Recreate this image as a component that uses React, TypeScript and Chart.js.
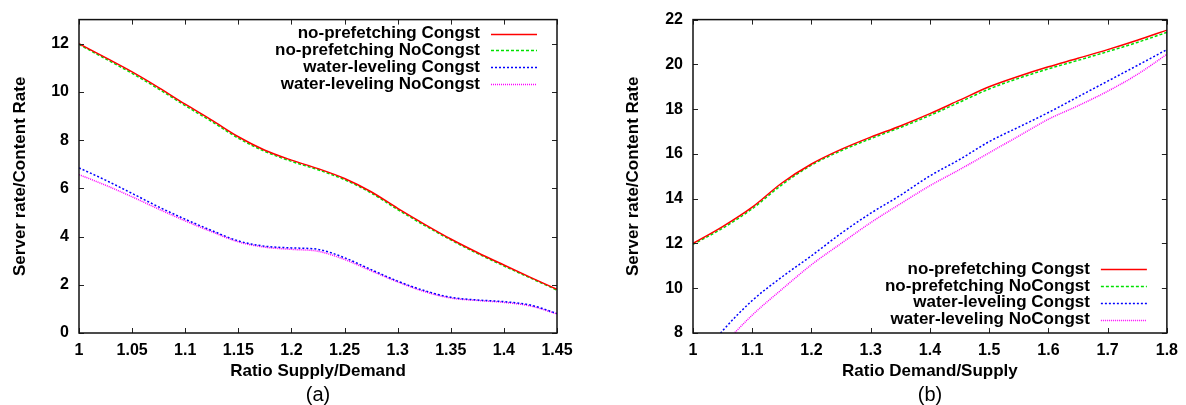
import React, { useEffect, useRef } from 'react';
import { Chart, registerables } from 'chart.js';

Chart.register(...registerables);

const FONT = '"Liberation Sans", Arial, Helvetica, sans-serif';

// ---- series meta ----
const seriesNames = [
  'no-prefetching Congst',
  'no-prefetching NoCongst',
  'water-leveling Congst',
  'water-leveling NoCongst',
];
const seriesColors = ['#ff0000', '#00e000', '#0000ff', '#ff00ff'];
const seriesDashes: number[][] = [[], [3, 2], [2, 2], [1, 1]];

// ---- chart (a): Ratio Supply/Demand ----
const xA = [1, 1.025, 1.05, 1.075, 1.1, 1.125, 1.15, 1.175, 1.2, 1.225, 1.25, 1.275, 1.3, 1.325, 1.35, 1.375, 1.4, 1.425, 1.45];
const noPrefCongstA = [12.0, 11.42, 10.83, 10.18, 9.49, 8.83, 8.14, 7.58, 7.17, 6.82, 6.41, 5.86, 5.17, 4.52, 3.9, 3.34, 2.82, 2.31, 1.81];
const noPrefNoCongstA = [11.97, 11.37, 10.77, 10.12, 9.43, 8.77, 8.08, 7.53, 7.12, 6.77, 6.36, 5.81, 5.12, 4.47, 3.86, 3.3, 2.78, 2.28, 1.78];
const waterCongstA = [6.85, 6.34, 5.79, 5.23, 4.72, 4.25, 3.82, 3.6, 3.53, 3.47, 3.12, 2.63, 2.15, 1.76, 1.48, 1.37, 1.3, 1.16, 0.81];
const waterNoCongstA = [6.57, 6.13, 5.65, 5.14, 4.65, 4.2, 3.78, 3.56, 3.47, 3.39, 3.05, 2.58, 2.12, 1.72, 1.45, 1.35, 1.27, 1.12, 0.79];
const xTicksA = [1, 1.05, 1.1, 1.15, 1.2, 1.25, 1.3, 1.35, 1.4, 1.45];
const xTickLabelsA = ['1', '1.05', '1.1', '1.15', '1.2', '1.25', '1.3', '1.35', '1.4', '1.45'];
const yTicksA = [0, 2, 4, 6, 8, 10, 12];
const yTickLabelsA = ['0', '2', '4', '6', '8', '10', '12'];

// ---- chart (b): Ratio Demand/Supply ----
const xB = [1, 1.05, 1.1, 1.15, 1.2, 1.25, 1.3, 1.35, 1.4, 1.45, 1.5, 1.55, 1.6, 1.65, 1.7, 1.75, 1.8];
const noPrefCongstB = [12.0, 12.75, 13.62, 14.7, 15.55, 16.2, 16.75, 17.25, 17.8, 18.4, 19.0, 19.47, 19.89, 20.27, 20.66, 21.08, 21.53];
const noPrefNoCongstB = [11.96, 12.68, 13.55, 14.62, 15.5, 16.14, 16.68, 17.18, 17.72, 18.31, 18.9, 19.38, 19.8, 20.18, 20.57, 20.98, 21.43];
const waterCongstB = [6.45, 8.1, 9.45, 10.5, 11.45, 12.45, 13.35, 14.15, 15.02, 15.75, 16.55, 17.2, 17.85, 18.55, 19.25, 19.95, 20.66];
const waterNoCongstB = [6.1, 7.45, 8.8, 9.95, 11.05, 12.0, 12.93, 13.77, 14.58, 15.3, 16.05, 16.8, 17.55, 18.15, 18.8, 19.55, 20.45];
const xTicksB = [1, 1.1, 1.2, 1.3, 1.4, 1.5, 1.6, 1.7, 1.8];
const xTickLabelsB = ['1', '1.1', '1.2', '1.3', '1.4', '1.5', '1.6', '1.7', '1.8'];
const yTicksB = [8, 10, 12, 14, 16, 18, 20, 22];
const yTickLabelsB = ['8', '10', '12', '14', '16', '18', '20', '22'];

const gnuFramePlugin = {
  id: 'gnuFrame',
  afterDatasetsDraw(chart: any, _args: any, opts: any) {
    const { ctx, chartArea: a, scales } = chart;
    ctx.save();
    // inward tick marks, mirrored on opposite sides
    ctx.strokeStyle = '#222';
    ctx.lineWidth = 1;
    const tl = 5;
    scales.x.ticks.forEach((t: any) => {
      const px = Math.round(scales.x.getPixelForValue(t.value)) + 0.5;
      ctx.beginPath();
      ctx.moveTo(px, a.bottom); ctx.lineTo(px, a.bottom - tl);
      ctx.moveTo(px, a.top); ctx.lineTo(px, a.top + tl);
      ctx.stroke();
    });
    scales.y.ticks.forEach((t: any) => {
      const py = Math.round(scales.y.getPixelForValue(t.value)) + 0.5;
      ctx.beginPath();
      ctx.moveTo(a.left, py); ctx.lineTo(a.left + tl, py);
      ctx.moveTo(a.right, py); ctx.lineTo(a.right - tl, py);
      ctx.stroke();
    });
    // frame
    ctx.strokeStyle = '#111';
    ctx.lineWidth = 1.5;
    ctx.strokeRect(a.left, a.top, a.right - a.left, a.bottom - a.top);

    // legend (gnuplot style: right-aligned text, sample at right)
    const n = chart.data.datasets.length;
    const rowH = 16.8;
    ctx.font = `bold 17px ${FONT}`;
    ctx.textAlign = 'right';
    ctx.textBaseline = 'middle';
    chart.data.datasets.forEach((ds: any, i: number) => {
      const y = opts.legendPos === 'bottom'
        ? a.bottom - 13.5 - (n - 1 - i) * rowH
        : a.top + 14 + i * rowH;
      ctx.fillStyle = '#000';
      ctx.fillText(ds.label, a.right - 77, y);
      const ly = Math.round(y) + 0.5;
      ctx.beginPath();
      ctx.strokeStyle = ds.borderColor;
      ctx.lineWidth = 1.5;
      ctx.setLineDash(ds.borderDash || []);
      ctx.moveTo(a.right - 66, ly);
      ctx.lineTo(a.right - 20, ly);
      ctx.stroke();
      ctx.setLineDash([]);
    });

    // caption
    ctx.font = `20px ${FONT}`;
    ctx.textAlign = 'center';
    ctx.textBaseline = 'middle';
    ctx.fillStyle = '#000';
    ctx.fillText(opts.caption, (a.left + a.right) / 2, chart.height - 10);
    ctx.restore();
  },
};

type Cfg = {
  xs: number[];
  series: number[][];
  xTicks: number[];
  xTickLabels: string[];
  yTicks: number[];
  yTickLabels: string[];
  xMin: number; xMax: number; yMin: number; yMax: number;
  xTitle: string;
  caption: string;
  legendPos: string;
  yAxisWidth: number;
  padRight: number;
  yTitlePad: number;
};

function GnuChart({ cfg, width }: { cfg: Cfg; width: number }) {
  const ref = useRef<HTMLCanvasElement>(null);
  useEffect(() => {
    if (!ref.current) return;
    const chart = new Chart(ref.current, {
      type: 'line',
      data: {
        datasets: cfg.series.map((vals, i) => ({
          label: seriesNames[i],
          data: cfg.xs.map((x, j) => ({ x, y: vals[j] })),
          borderColor: seriesColors[i],
          backgroundColor: seriesColors[i],
          borderDash: seriesDashes[i],
          borderWidth: 1.5,
          pointRadius: 0,
          cubicInterpolationMode: 'monotone' as const,
          fill: false,
        })),
      },
      options: {
        animation: false,
        responsive: true,
        maintainAspectRatio: false,
        layout: { padding: { left: 0, right: cfg.padRight, top: 19, bottom: 0 } },
        plugins: {
          legend: { display: false },
          tooltip: { enabled: false },
          gnuFrame: { caption: cfg.caption, legendPos: cfg.legendPos },
        } as any,
        scales: {
          x: {
            type: 'linear',
            min: cfg.xMin,
            max: cfg.xMax,
            grid: { display: false, drawTicks: false },
            border: { display: false },
            afterBuildTicks: (s: any) => { s.ticks = cfg.xTicks.map((v) => ({ value: v })); },
            afterFit: (s: any) => { s.height = 72; },
            ticks: {
              autoSkip: false,
              maxRotation: 0,
              padding: 8,
              color: '#000',
              font: { family: FONT, size: 16, weight: 'bold' },
              callback: (_v: any, i: number) => cfg.xTickLabels[i],
            },
            title: {
              display: true,
              text: cfg.xTitle,
              color: '#000',
              font: { family: FONT, size: 17, weight: 'bold' },
              padding: { top: 0, bottom: 23 },
            },
          },
          y: {
            type: 'linear',
            min: cfg.yMin,
            max: cfg.yMax,
            grid: { display: false, drawTicks: false },
            border: { display: false },
            afterBuildTicks: (s: any) => { s.ticks = cfg.yTicks.map((v) => ({ value: v })); },
            afterFit: (s: any) => { s.width = cfg.yAxisWidth; },
            ticks: {
              padding: 10,
              color: '#000',
              font: { family: FONT, size: 16, weight: 'bold' },
              callback: (_v: any, i: number) => cfg.yTickLabels[i],
            },
            title: {
              display: true,
              text: 'Server rate/Content Rate',
              color: '#000',
              font: { family: FONT, size: 17, weight: 'bold' },
              padding: { top: cfg.yTitlePad, bottom: 0 },
            },
          },
        },
      },
      plugins: [gnuFramePlugin],
    });
    return () => chart.destroy();
  }, [cfg]);
  return (
    <div style={{ position: 'relative', width, height: 405 }}>
      <canvas ref={ref} />
    </div>
  );
}

const cfgA: Cfg = {
  xs: xA,
  series: [noPrefCongstA, noPrefNoCongstA, waterCongstA, waterNoCongstA],
  xTicks: xTicksA, xTickLabels: xTickLabelsA,
  yTicks: yTicksA, yTickLabels: yTickLabelsA,
  xMin: 1, xMax: 1.45, yMin: 0, yMax: 13,
  xTitle: 'Ratio Supply/Demand',
  caption: '(a)',
  legendPos: 'top',
  yAxisWidth: 79,
  padRight: 43,
  yTitlePad: 10,
};

const cfgB: Cfg = {
  xs: xB,
  series: [noPrefCongstB, noPrefNoCongstB, waterCongstB, waterNoCongstB],
  xTicks: xTicksB, xTickLabels: xTickLabelsB,
  yTicks: yTicksB, yTickLabels: yTickLabelsB,
  xMin: 1, xMax: 1.8, yMin: 8, yMax: 22,
  xTitle: 'Ratio Demand/Supply',
  caption: '(b)',
  legendPos: 'bottom',
  yAxisWidth: 93,
  padRight: 15,
  yTitlePad: 23,
};

export default function App() {
  return (
    <div style={{ position: 'fixed', left: 0, top: 0, width: 1186, height: 405, display: 'flex', background: '#fff' }}>
      <GnuChart cfg={cfgA} width={600} />
      <GnuChart cfg={cfgB} width={586} />
    </div>
  );
}
